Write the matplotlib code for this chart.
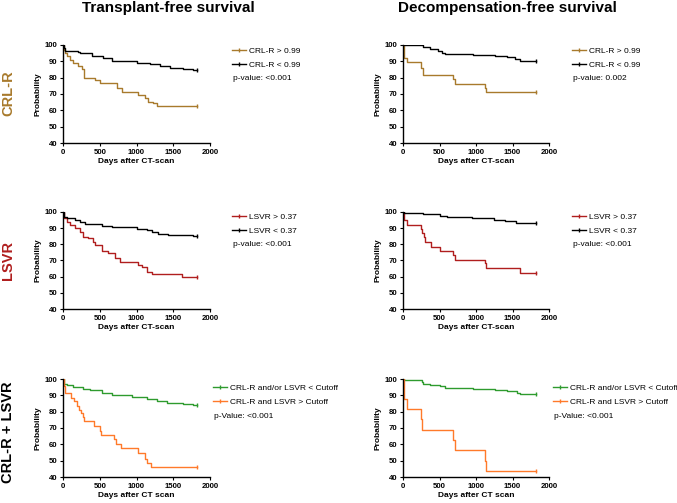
import matplotlib
matplotlib.use("Agg")
import matplotlib.pyplot as plt

plt.rcParams['font.family'] = ['Liberation Sans', 'DejaVu Sans']

# --- data (days, survival %) ---
# transplant-free, CRL-R
tf_crl_hi_t = [0, 10, 27, 60, 95, 140, 209, 254, 286, 435, 503, 730, 798, 1025, 1115, 1161, 1229, 1274, 1825]
tf_crl_hi_s = [100, 97, 95, 93, 91, 89, 87, 85, 79.6, 78.6, 76.5, 73.5, 71.4, 69.4, 67.3, 65.3, 64.3, 62.9, 62.9]
tf_crl_lo_t = [0, 10, 30, 209, 231, 390, 549, 662, 1002, 1184, 1320, 1456, 1637, 1773, 1825]
tf_crl_lo_s = [100, 98, 96.5, 95.7, 94.9, 93.5, 91.8, 90.4, 89.2, 88.2, 87.1, 85.9, 85.3, 84.7, 84.7]

# decompensation-free, CRL-R
dc_crl_hi_t = [0, 10, 20, 59, 247, 269, 690, 712, 1123, 1137, 1825]
dc_crl_hi_s = [100, 95, 92, 89.4, 86, 81.6, 79, 76.3, 73.5, 71.1, 71.1]
dc_crl_lo_t = [0, 279, 370, 484, 530, 575, 963, 1260, 1420, 1534, 1603, 1825]
dc_crl_lo_s = [100, 98.6, 97.6, 96.3, 95.3, 94.7, 93.9, 93.3, 92.5, 91.6, 90.5, 90.5]

# transplant-free, LSVR
tf_lsvr_hi_t = [0, 10, 50, 95, 163, 231, 277, 345, 413, 435, 526, 617, 707, 775, 1025, 1070, 1147, 1206, 1614, 1825]
tf_lsvr_hi_s = [100, 96, 94, 92, 90, 87.8, 84.8, 83.7, 81.7, 79.6, 76.1, 74.5, 71.4, 69.3, 67.2, 65.8, 63.1, 61.5, 60, 60]
tf_lsvr_lo_t = [0, 14, 50, 163, 231, 299, 526, 662, 1002, 1138, 1206, 1297, 1433, 1773, 1825]
tf_lsvr_lo_s = [100, 97.1, 96.1, 95.1, 94, 92.6, 91.5, 90.5, 89.5, 88.9, 87.8, 86.4, 85.8, 85.2, 85.2]

# decompensation-free, LSVR
dc_lsvr_hi_t = [0, 10, 60, 250, 265, 285, 301, 379, 507, 690, 712, 1123, 1137, 1603, 1825]
dc_lsvr_hi_s = [100, 95, 92, 89.5, 86.8, 84.8, 81.3, 78.6, 75.9, 73.4, 70.3, 68.3, 65.2, 62.1, 62.1]
dc_lsvr_lo_t = [0, 10, 270, 500, 600, 950, 1250, 1400, 1550, 1825]
dc_lsvr_lo_s = [100, 99.2, 98.6, 97.8, 96.7, 96, 95.2, 94.2, 93.3, 93.3]

# transplant-free, CRL-R + LSVR
tf_comb_lo_t = [0, 14, 50, 141, 277, 367, 526, 662, 934, 1138, 1274, 1410, 1637, 1773, 1825]
tf_comb_lo_s = [100, 97.1, 96.1, 95.1, 94.1, 93.1, 91.6, 90, 89, 88, 86.3, 85.5, 84.9, 84.3, 84.3]
tf_comb_hi_t = [0, 15, 25, 105, 145, 190, 215, 245, 270, 290, 420, 500, 520, 700, 720, 790, 1020, 1120, 1140, 1200, 1825]
tf_comb_hi_s = [100, 96, 91.5, 88.5, 86.5, 83.5, 81, 79, 77, 74.5, 71.5, 68, 65.5, 63, 60, 57.5, 54.5, 51, 48.5, 46, 46]

# decompensation-free, CRL-R + LSVR
dc_comb_lo_t = [0, 10, 256, 280, 370, 507, 575, 963, 1260, 1420, 1557, 1603, 1825]
dc_comb_lo_s = [100, 99.3, 98.2, 97.1, 96.3, 95.5, 94.5, 93.9, 93.1, 92.5, 91.6, 90.6, 90.6]
dc_comb_hi_t = [0, 10, 59, 247, 260, 690, 712, 1123, 1137, 1825]
dc_comb_hi_s = [100, 87.5, 81.5, 75.3, 68.8, 62.5, 56.3, 50, 43.8, 43.8]

col_titles = ["Transplant-free survival", "Decompensation-free survival"]
row_labels = ["CRL-R", "LSVR", "CRL-R + LSVR"]
leg_labels = [["CRL-R > 0.99", "CRL-R < 0.99"],
              ["LSVR > 0.37", "LSVR < 0.37"],
              ["CRL-R and/or LSVR < Cutoff", "CRL-R and LSVR > Cutoff"]]
p_texts = [["p-value: <0.001", "p-value: 0.002"],
           ["p-value: <0.001", "p-value: <0.001"],
           ["p-Value: <0.001", "p-Value: <0.001"]]
x_labels = ["Days after CT-scan", "Days after CT-scan", "Days after CT scan"]
x_ticks = [0, 500, 1000, 1500, 2000]
y_ticks = [40, 50, 60, 70, 80, 90, 100]

brown = "#A87A2C"
red = "#B01E1E"
green = "#2E9B2E"
orange = "#FF7A2A"
row_colors = [brown, red, "black"]

# each panel: list of (t, s, color) in legend order
panels = [
    [[(tf_crl_hi_t, tf_crl_hi_s, brown), (tf_crl_lo_t, tf_crl_lo_s, "black")],
     [(dc_crl_hi_t, dc_crl_hi_s, brown), (dc_crl_lo_t, dc_crl_lo_s, "black")]],
    [[(tf_lsvr_hi_t, tf_lsvr_hi_s, red), (tf_lsvr_lo_t, tf_lsvr_lo_s, "black")],
     [(dc_lsvr_hi_t, dc_lsvr_hi_s, red), (dc_lsvr_lo_t, dc_lsvr_lo_s, "black")]],
    [[(tf_comb_lo_t, tf_comb_lo_s, green), (tf_comb_hi_t, tf_comb_hi_s, orange)],
     [(dc_comb_lo_t, dc_comb_lo_s, green), (dc_comb_hi_t, dc_comb_hi_s, orange)]],
]

W, H = 677, 503
fig = plt.figure(figsize=(W / 100, H / 100), dpi=100)

# axes boxes in pixels (left, right, top, bottom)
col_x = [(63, 210), (403, 549)]
row_y = [(45, 143), (212, 309), (379, 477)]
legend_x = [[232, 572], [232, 572], [213, 553]]
legend_y = [47, 213, 384]
row_label_y = [93, 260, 432]

for r in range(3):
    for c in range(2):
        x0, x1 = col_x[c]
        y0, y1 = row_y[r]
        ax = fig.add_axes([x0 / W, 1 - y1 / H, (x1 - x0) / W, (y1 - y0) / H])
        handles = []
        for t, s, color in panels[r][c]:
            ln, = ax.step(t, s, where='post', color=color, lw=1.0,
                          marker='|', markevery=[len(t) - 1], markersize=3.5)
            handles.append(ln)
        ax.set_xlim(0, 2000)
        ax.set_ylim(40, 100)
        ax.set_xticks(x_ticks)
        ax.set_yticks(y_ticks)
        ax.spines['top'].set_visible(False)
        ax.spines['right'].set_visible(False)
        ax.spines['left'].set_linewidth(1.0)
        ax.spines['bottom'].set_linewidth(1.0)
        ax.tick_params(labelsize=5.6, length=2.5, width=0.8, pad=1.5)
        for lab in ax.get_xticklabels() + ax.get_yticklabels():
            lab.set_fontweight('bold')
        ax.set_xlabel(x_labels[r], fontsize=6, fontweight='bold', labelpad=2)
        ax.set_ylabel("Probability", fontsize=6, fontweight='bold', labelpad=2)

        lx = legend_x[r][c]
        ax.legend(handles, leg_labels[r], loc='upper left',
                  bbox_to_anchor=(lx / W, 1 - legend_y[r] / H),
                  bbox_transform=fig.transFigure, frameon=False,
                  fontsize=6.0, handlelength=1.7, handletextpad=0.35,
                  borderpad=0, borderaxespad=0, labelspacing=0.8)
        fig.text((lx + 1) / W, 1 - (legend_y[r] + 32) / H, p_texts[r][c],
                 fontsize=6.0, va='center', ha='left')

# column titles
fig.text(168 / W, 1 - 8 / H, col_titles[0], fontsize=11, fontweight='bold', ha='center', va='center')
fig.text(507 / W, 1 - 8 / H, col_titles[1], fontsize=11, fontweight='bold', ha='center', va='center')

# row labels
for r in range(3):
    fig.text(8 / W, 1 - row_label_y[r] / H, row_labels[r], fontsize=10.5, fontweight='bold',
             color=row_colors[r], rotation=90, ha='center', va='center')

plt.savefig("out.png", dpi=100)
